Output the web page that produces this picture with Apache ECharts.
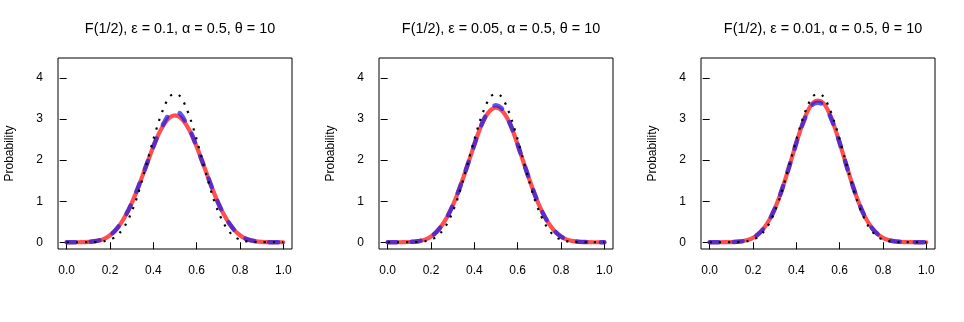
<!DOCTYPE html>
<html>
<head>
<meta charset="utf-8">
<script src="https://cdn.jsdelivr.net/npm/echarts@6/dist/echarts.min.js"></script>
<style>
html,body{margin:0;padding:0;background:#fff;}
#chart{width:964px;height:322px;}
</style>
</head>
<body>
<div id="chart"></div>
<script>
// ---- data ----
const titles = [
  "F(1/2), ε = 0.1, α = 0.5, θ = 10",
  "F(1/2), ε = 0.05, α = 0.5, θ = 10",
  "F(1/2), ε = 0.01, α = 0.5, θ = 10"
];
const yName = "Probability";
const xTicks = [0, 0.2, 0.4, 0.6, 0.8, 1.0];
const yTicks = [0, 1, 2, 3, 4];

const xs = [0,0.025,0.05,0.075,0.1,0.125,0.15,0.175,0.2,0.225,0.25,0.275,0.3,0.325,0.35,0.375,0.4,0.425,0.45,0.475,0.5,
            0.525,0.55,0.575,0.6,0.625,0.65,0.675,0.7,0.725,0.75,0.775,0.8,0.825,0.85,0.875,0.9,0.925,0.95,0.975,1];

// black dotted reference curve (same in every panel)
const dotted = [0,0,0,0,0.001,0.004,0.012,0.028,0.062,0.13,0.26,0.46,0.74,1.1,1.55,2.02,2.5,2.94,3.3,3.55,3.62,
                3.55,3.3,2.94,2.5,2.02,1.55,1.1,0.74,0.46,0.26,0.13,0.062,0.028,0.012,0.004,0.001,0,0,0,0];

// panel 1 (eps = 0.1)
const red1  = [0,0,0,0.003,0.01,0.022,0.045,0.09,0.17,0.29,0.46,0.68,0.95,1.27,1.62,1.98,2.33,2.64,2.88,3.04,3.09,
               3.04,2.88,2.64,2.33,1.98,1.62,1.27,0.95,0.68,0.46,0.29,0.17,0.09,0.045,0.022,0.01,0.003,0,0,0];
const blue1 = [0,0,0,0.003,0.01,0.022,0.045,0.09,0.17,0.29,0.46,0.68,0.95,1.27,1.62,1.98,2.33,2.66,2.92,3.13,3.19,
               3.13,2.92,2.66,2.33,1.98,1.62,1.27,0.95,0.68,0.46,0.29,0.17,0.09,0.045,0.022,0.01,0.003,0,0,0];
// panel 2 (eps = 0.05)
const red2  = [0,0,0,0.002,0.006,0.015,0.033,0.07,0.14,0.25,0.41,0.62,0.89,1.22,1.59,1.98,2.38,2.75,3.04,3.22,3.28,
               3.22,3.04,2.75,2.38,1.98,1.59,1.22,0.89,0.62,0.41,0.25,0.14,0.07,0.033,0.015,0.006,0.002,0,0,0];
const blue2 = [0,0,0,0.002,0.006,0.015,0.033,0.07,0.14,0.25,0.41,0.62,0.89,1.22,1.59,1.98,2.38,2.76,3.06,3.27,3.34,
               3.27,3.06,2.76,2.38,1.98,1.59,1.22,0.89,0.62,0.41,0.25,0.14,0.07,0.033,0.015,0.006,0.002,0,0,0];
// panel 3 (eps = 0.01)
const red3  = [0,0,0,0.001,0.004,0.01,0.024,0.052,0.105,0.2,0.34,0.54,0.81,1.15,1.55,1.98,2.42,2.83,3.17,3.39,3.45,
               3.39,3.17,2.83,2.42,1.98,1.55,1.15,0.81,0.54,0.34,0.2,0.105,0.052,0.024,0.01,0.004,0.001,0,0,0];
const blue3 = [0,0,0,0.001,0.004,0.01,0.024,0.052,0.105,0.2,0.34,0.54,0.81,1.15,1.55,1.98,2.42,2.82,3.14,3.35,3.40,
               3.35,3.14,2.82,2.42,1.98,1.55,1.15,0.81,0.54,0.34,0.2,0.105,0.052,0.024,0.01,0.004,0.001,0,0,0];

const reds = [red1, red2, red3];
const blues = [blue1, blue2, blue3];

// ---- layout ----
const FONT = "'Liberation Sans', Arial, Helvetica, sans-serif";
const lefts = [58, 379, 701];
const boxW = 234, boxTop = 58, boxH = 191;

const pair = (arr) => xs.map((x, i) => [x, arr[i]]);

const option = {
  animation: false,
  backgroundColor: '#ffffff',
  title: titles.map((t, i) => ({
    text: t,
    left: lefts[i] + boxW / 2,
    top: 17,
    textAlign: 'center',
    textStyle: { fontFamily: FONT, fontSize: 14.4, fontWeight: 'normal', color: '#000' }
  })),
  grid: lefts.map(l => ({
    left: l, top: boxTop, width: boxW, height: boxH,
    show: true, borderColor: '#000', borderWidth: 1, backgroundColor: 'transparent'
  })),
  xAxis: lefts.map((l, i) => ({
    type: 'value', gridIndex: i, min: -0.04, max: 1.04,
    axisLine: { show: false },
    splitLine: { show: false },
    axisTick: { show: true, customValues: xTicks, length: 7, lineStyle: { color: '#000', width: 1 } },
    axisLabel: {
      show: true, customValues: xTicks, margin: 16,
      formatter: v => v.toFixed(1),
      fontFamily: FONT, fontSize: 12, color: '#000'
    }
  })),
  yAxis: lefts.map((l, i) => ({
    type: 'value', gridIndex: i, min: -0.165, max: 4.49,
    name: yName, nameLocation: 'middle', nameGap: 42, nameRotate: 90,
    nameTextStyle: { fontFamily: FONT, fontSize: 12, color: '#000' },
    axisLine: { show: false },
    splitLine: { show: false },
    axisTick: { show: true, customValues: yTicks, length: 7, lineStyle: { color: '#000', width: 1 } },
    axisLabel: {
      show: true, customValues: yTicks, margin: 15,
      fontFamily: FONT, fontSize: 12, color: '#000'
    }
  })),
  series: []
};

for (let i = 0; i < 3; i++) {
  option.series.push({
    type: 'line', xAxisIndex: i, yAxisIndex: i, data: pair(reds[i]),
    smooth: 0.3, showSymbol: false, silent: true, z: 2,
    lineStyle: { color: 'rgba(255,30,30,0.78)', width: 4.2, cap: 'round' }
  });
  option.series.push({
    type: 'line', xAxisIndex: i, yAxisIndex: i, data: pair(blues[i]),
    smooth: 0.3, showSymbol: false, silent: true, z: 3,
    lineStyle: { color: 'rgba(40,30,235,0.75)', width: 4.5, type: [9, 15], cap: 'round' }
  });
  option.series.push({
    type: 'line', xAxisIndex: i, yAxisIndex: i, data: pair(dotted),
    smooth: 0.3, showSymbol: false, silent: true, z: 4,
    lineStyle: { color: '#000', width: 2.2, type: [2.2, 7], cap: 'butt' }
  });
}

const chart = echarts.init(document.getElementById('chart'), null, { renderer: 'canvas' });
chart.setOption(option);
</script>
</body>
</html>
